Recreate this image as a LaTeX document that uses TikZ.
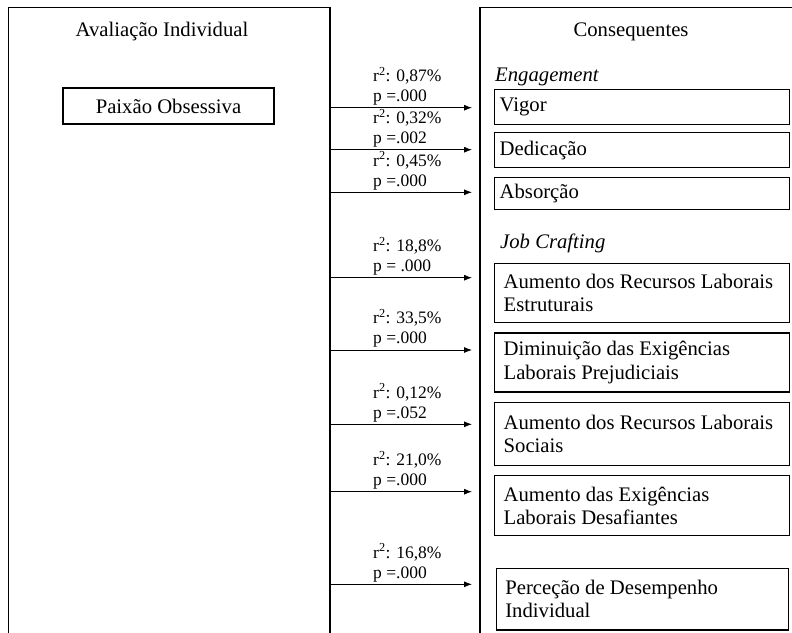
\documentclass[tikz,border=0pt]{standalone}
\usepackage{fontspec}
\setmainfont{Liberation Serif}
\usetikzlibrary{arrows.meta}

\tikzset{
  frame/.style={line width=1.6pt},
  item/.style={draw, line width=1.3pt, anchor=north west, minimum width=295pt,
    text width=285pt, inner xsep=5pt, align=flush left},
  item2/.style={item, text width=277pt, inner xsep=9pt, minimum height=59pt},
  reg/.style={-{Latex[length=8pt,width=6pt]}, line width=0.8pt},
  stat/.style={anchor=south west, align=left, inner sep=0pt,
    font=\fontsize{17.5}{20}\selectfont},
}

\begin{document}
\begin{tikzpicture}[x=1pt, y=-1pt, font=\fontsize{20.7}{23.5}\selectfont]
    \useasboundingbox (0,0) rectangle (792,632);
    \clip (0,0) rectangle (792,632);

    % frames
    \draw[frame] (8.5,660) -- (8.5,7.5) -- (330,7.5) -- (330,660);   % Avaliacao
    \draw[frame] (480,660) -- (480,7.5) -- (820,7.5);                % Consequentes
    \node (aval) at (162,31.7) {Avaliação Individual};
    \node (conseq) at (631,31.7) {Consequentes};

    \node[draw, line width=1.3pt, minimum width=211pt, minimum height=36pt] (paixao) at (168.5,106) {Paixão Obsessiva};

    % engagement
    \node[anchor=west, inner sep=0pt] (eng) at (495,76.7) {\textit{Engagement}};
    \node[item, minimum height=35pt] (vigor) at (494,89) {Vigor};
    \node[item, minimum height=35pt] (dedic) at (494,132) {Dedicação};
    \node[item, minimum height=32pt] (absorc) at (494,177) {Absorção};

    % job crafting
    \node[anchor=west, inner sep=0pt] (jc) at (500,243) {\textit{Job Crafting}};
    \node[item2] (estrut) at (494,262.7) {Aumento dos Recursos Laborais\\Estruturais};
    \node[item2] (prejud) at (494,332.3) {Diminuição das Exigências\\Laborais Prejudiciais};
    \node[item2, minimum height=63pt] (sociais) at (494,401.7) {Aumento dos Recursos Laborais\\Sociais};
    \node[item2, minimum height=60pt] (desaf) at (494,475) {Aumento das Exigências\\Laborais Desafiantes};
    \node[item2, minimum width=292pt, text width=274pt, minimum height=61.6pt] (desemp) at (495.7,567.7) {Perceção de Desempenho\\Individual};

    % regressions
    \foreach \i/\y/\r/\p in {1/107.7/{0,87}/{=.000}, 2/149.7/{0,32}/{=.002}, 3/192.3/{0,45}/{=.000},
                             4/277.7/{18,8}/{= .000}, 5/350/{33,5}/{=.000}, 6/424.3/{0,12}/{=.052},
                             7/491.7/{21,0}/{=.000}, 8/584.3/{16,8}/{=.000}} {
        \coordinate (s\i) at (330,\y);
        \coordinate (e\i) at (472,\y);
        \draw[reg] (s\i) -- (e\i);
        \node[stat] (lbl\i) at (373,\y-2.2) {r\textsuperscript{2}: \r\%\\p \p};
    }
\end{tikzpicture}
\end{document}
